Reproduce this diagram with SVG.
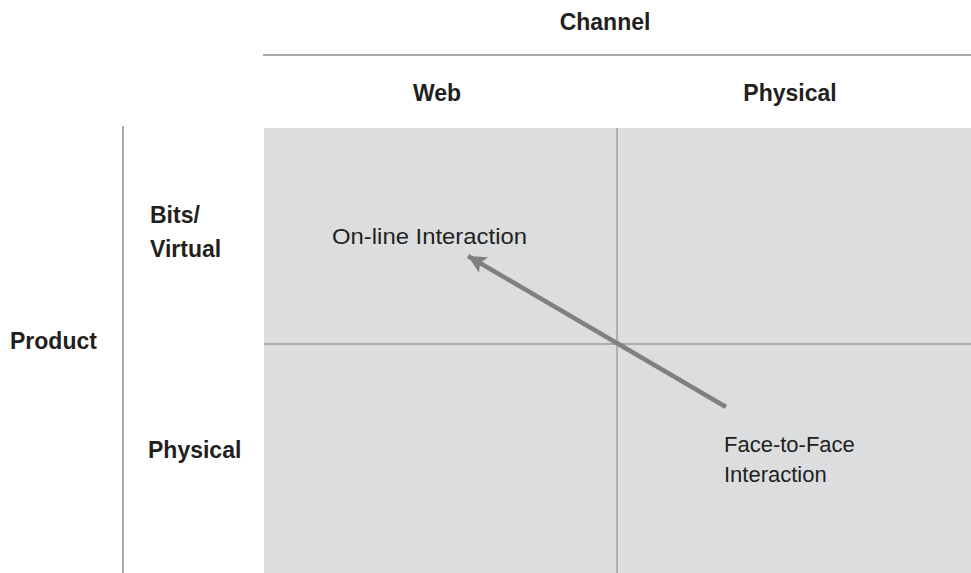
<svg xmlns="http://www.w3.org/2000/svg" width="971" height="573" viewBox="0 0 971 573">
  <style>
    .hdr { font-family: "Liberation Sans", Arial, sans-serif; font-weight: bold; font-size: 23px; fill: #231f20; }
    .lbl { font-family: "Liberation Sans", Arial, sans-serif; font-size: 22px; fill: #231f20; }
    .rule { stroke: #8c8c8c; stroke-width: 1.5; fill: none; }
    .div { stroke: #9a9a9a; stroke-width: 1.3; fill: none; }
    .arrow { stroke: #808080; stroke-width: 4.5; fill: none; }
  </style>
  <defs>
    <marker id="head" markerUnits="userSpaceOnUse" markerWidth="24" markerHeight="24" refX="18" refY="9" orient="auto">
      <path d="M0,0 L18,9 L0,18 L4,9 Z" fill="#808080"/>
    </marker>
  </defs>
  <rect width="971" height="573" fill="#ffffff"/>

  <g id="grid">
    <rect x="264" y="128" width="707" height="445" fill="#dcdddf"/>
    <line class="div" x1="617" y1="128" x2="617" y2="573"/>
    <line class="div" x1="264" y1="344" x2="971" y2="344"/>
  </g>

  <g id="channel-axis">
    <text class="hdr" x="605" y="30" text-anchor="middle">Channel</text>
    <line class="rule" x1="263" y1="55" x2="971" y2="55"/>
    <text class="hdr" x="437" y="101" text-anchor="middle">Web</text>
    <text class="hdr" x="790" y="101" text-anchor="middle">Physical</text>
  </g>

  <g id="product-axis">
    <text class="hdr" x="10" y="349">Product</text>
    <line class="rule" x1="123" y1="126" x2="123" y2="573"/>
    <text class="hdr" x="150" y="223">Bits/</text>
    <text class="hdr" x="150" y="257">Virtual</text>
    <text class="hdr" x="148" y="458">Physical</text>
  </g>

  <g id="online">
    <text class="lbl" x="332" y="244" textLength="195" lengthAdjust="spacingAndGlyphs">On-line Interaction</text>
  </g>

  <g id="face-to-face">
    <text class="lbl" x="724" y="452">Face-to-Face</text>
    <text class="lbl" x="724" y="482">Interaction</text>
  </g>

  <g id="connectors">
    <line class="arrow" x1="726" y1="407" x2="468" y2="256" marker-end="url(#head)"/>
  </g>
</svg>
